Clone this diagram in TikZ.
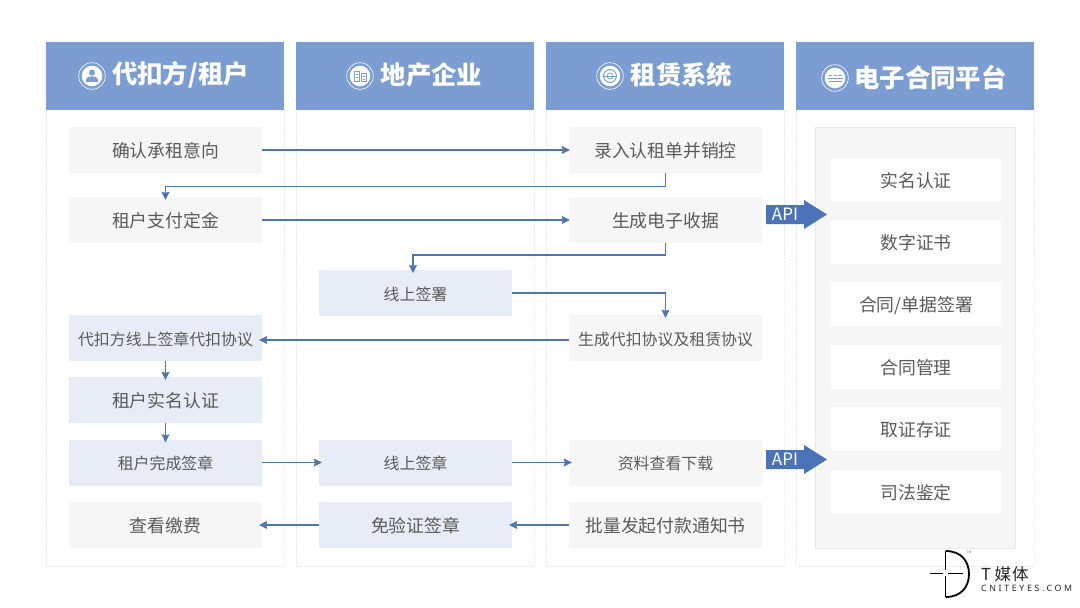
\documentclass[tikz,border=0pt]{standalone}
\usepackage{fontspec}
\setmainfont{Noto Sans CJK SC}
\newfontfamily\logofont[LetterSpace=30]{Noto Sans}
\usetikzlibrary{arrows.meta,shapes.arrows}
\definecolor{headblue}{HTML}{7B9DD1}
\definecolor{linkblue}{HTML}{4F75B3}
\definecolor{apiblue}{HTML}{4B74B8}
\definecolor{softgray}{HTML}{F6F6F6}
\definecolor{softblue}{HTML}{E8ECF6}
\definecolor{inktext}{HTML}{5A5A5A}
\definecolor{panelline}{HTML}{E8E8E8}
\tikzset{
  headbox/.style={fill=headblue,minimum width=238pt,minimum height=67.5pt,inner sep=0pt},
  headtext/.style={text=white,inner sep=0pt,font=\fontsize{25.4}{28}\selectfont\bfseries},
  graybox/.style={fill=softgray,text=inktext,minimum width=193pt,minimum height=46pt,inner sep=0pt,text height=16.6pt,text depth=1pt,font=\fontsize{17.8}{20}\selectfont},
  bluebox/.style={graybox,fill=softblue},
  smalltext/.style={text height=15.4pt,text depth=1pt,font=\fontsize{15.9}{18}\selectfont},
  whitebox/.style={fill=white,text=inktext,minimum width=170pt,minimum height=44pt,inner sep=0pt,text height=15.6pt,text depth=1pt,font=\fontsize{17.8}{20}\selectfont},
  panelbox/.style={fill=softgray,draw=panelline,line width=0.6pt,minimum width=200pt,minimum height=421pt,inner sep=0pt},
  link/.style={draw=linkblue,line width=1.1pt,-{Stealth[length=8pt,width=8pt,inset=1pt]},shorten >=-3pt},
  panelside/.style={draw=panelline,line width=0.6pt,dash pattern=on 1.5pt off 1.5pt},
  apibody/.style={fill=apiblue,draw=none},
  apitext/.style={text=white,inner sep=0pt,font=\fontsize{17}{18}\selectfont},
  iconink/.style={fill=headblue,draw=none},
  iconring/.style={draw=white,line width=0.6pt},
}
\begin{document}
\begin{tikzpicture}[x=1pt,y=-1pt]
\useasboundingbox (0,0) rectangle (1080,608);
\fill[white] (0,0) rectangle (1080,608);

% dotted panels
\foreach \l/\r in {46/284,296/534,546/784,796/1034}{
  \draw[panelside] (\l,109) -- (\l,566) -- (\r,566) -- (\r,109);
}

% headers
\node[headbox] (h1) at (165,76) {};
\node[headbox] (h2) at (415,76) {};
\node[headbox] (h3) at (665,76) {};
\node[headbox] (h4) at (915,76) {};
\node[headtext] (h1t) at (180.5,75) {代扣方/租户};
\node[headtext] (h2t) at (431.5,75) {地产企业};
\node[headtext] (h3t) at (681.5,75) {租赁系统};
\node[headtext] (h4t) at (930.5,78) {电子合同平台};

% icons
\foreach \cx/\cy in {92/76,360/76,610/76,835/78}{
  \draw[iconring] (\cx,\cy) circle (13.3);
  \fill[white] (\cx,\cy) circle (10.3);
}
\fill[iconink] (92,72.6) circle (3);
\fill[iconink] (85.8,81.8) .. controls (86,77) and (89,76.2) .. (92,76.2) .. controls (95,76.2) and (98,77) .. (98.2,81.8) -- cycle;
\draw[headblue,line width=1pt] (354,71) rectangle (359.5,81.5);
\draw[headblue,line width=1pt] (361,73) rectangle (366.5,81.5);
\draw[headblue,line width=0.8pt] (355.5,74) -- (358,74) (355.5,77) -- (358,77) (362.5,76) -- (365,76) (362.5,79) -- (365,79);
\draw[headblue,line width=1pt] (610,76) circle (6.4);
\draw[headblue,line width=0.8pt] (610,76) circle (3);
\draw[headblue,line width=0.8pt] (604,76) -- (616,76);
\draw[headblue,line width=1pt] (827.5,78.5) -- (842.5,78.5);
\draw[headblue,line width=1pt] (828.5,75.5) -- (832,75.5) (833.5,75.5) -- (836.5,75.5) (838,75.5) -- (841.5,75.5);
\draw[headblue,line width=0.8pt] (828.5,81.5) -- (841.5,81.5);

% column 1
\node[graybox] (a1) at (165.5,150) {确认承租意向};
\node[graybox] (a2) at (165.5,220) {租户支付定金};
\node[bluebox,smalltext] (a3) at (165.5,338) {代扣方线上签章代扣协议};
\node[bluebox] (a4) at (165.5,400) {租户实名认证};
\node[bluebox,smalltext] (a5) at (165.5,462.5) {租户完成签章};
\node[graybox] (a6) at (165.5,525) {查看缴费};

% column 2
\node[bluebox,smalltext] (b1) at (415.5,293) {线上签署};
\node[bluebox,smalltext] (b2) at (415.5,462.5) {线上签章};
\node[bluebox] (b3) at (415.5,525) {免验证签章};

% column 3
\node[graybox] (c1) at (665.5,150) {录入认租单并销控};
\node[graybox] (c2) at (665.5,220) {生成电子收据};
\node[graybox,smalltext] (c3) at (665.5,338) {生成代扣协议及租赁协议};
\node[graybox,smalltext] (c4) at (665.5,462.5) {资料查看下载};
\node[graybox] (c5) at (665.5,525) {批量发起付款通知书};

% platform
\node[panelbox] (p0) at (915,337.5) {};
\node[whitebox] (p1) at (916,180) {实名认证};
\node[whitebox] (p2) at (916,242) {数字证书};
\node[whitebox] (p3) at (916,304) {合同/单据签署};
\node[whitebox] (p4) at (916,367) {合同管理};
\node[whitebox] (p5) at (916,429) {取证存证};
\node[whitebox] (p6) at (916,492) {司法鉴定};

% API arrows
\fill[apibody] (766,205) -- (804,205) -- (804,200) -- (827,214.5) -- (804,229) -- (804,224) -- (766,224) -- cycle;
\fill[apibody] (766,450) -- (804,450) -- (804,445) -- (827,459.5) -- (804,474) -- (804,469) -- (766,469) -- cycle;
\node[apitext] (api1) at (785,214.5) {API};
\node[apitext] (api2) at (785,459.5) {API};

% connectors
\coordinate (j1) at (165.5,186.5);
\coordinate (j2) at (413,255);
\coordinate (j2e) at (413,270);
\draw[link,shorten >=-1pt] (a1.east) -- (c1.west);
\draw[link] (c1.south) |- (j1) -- (a2.north);
\draw[link,shorten >=-1pt] (a2.east) -- (c2.west);
\draw[link] (c2.south) |- (j2) -- (j2e);
\draw[link] (b1.east) -| (c3.north);
\draw[link] ([yshift=-2pt]c3.west) -- ([yshift=-2pt]a3.east);
\draw[link] (a3.south) -- (a4.north);
\draw[link] (a4.south) -- (a5.north);
\draw[link] (a5.east) -- (b2.west);
\draw[link] (b2.east) -- (c4.west);
\draw[link] (c5.west) -- (b3.east);
\draw[link] (b3.west) -- (a6.east);

% logo
\draw[black,line width=1.8pt] (945.5,551) -- (945.5,570);
\draw[black,line width=1.8pt] (945.5,576) -- (945.5,597);
\draw[black,line width=1.8pt] (945.5,551) .. controls (962,551) and (969,562) .. (969,574) .. controls (969,586) and (962,597) .. (945.5,597);
\draw[black,line width=1.8pt] (930,573.5) -- (943,573.5);
\draw[black,line width=1.8pt] (948,573.5) -- (963,573.5);
\node[text=gray,inner sep=0pt,font=\fontsize{3.5}{4}\selectfont] (tm) at (969,552) {TM};
\node[text=black!85,anchor=west,inner sep=0pt,font=\fontsize{16.5}{18}\selectfont] (lg1) at (981,574) {T\hspace{3.5pt}媒\hspace{1pt}体};
\node[text=black!85,anchor=west,inner sep=0pt,font=\logofont\fontsize{8.8}{10}\selectfont] (lg2) at (981,588.5) {CNITEYES.COM};
\end{tikzpicture}
\end{document}
